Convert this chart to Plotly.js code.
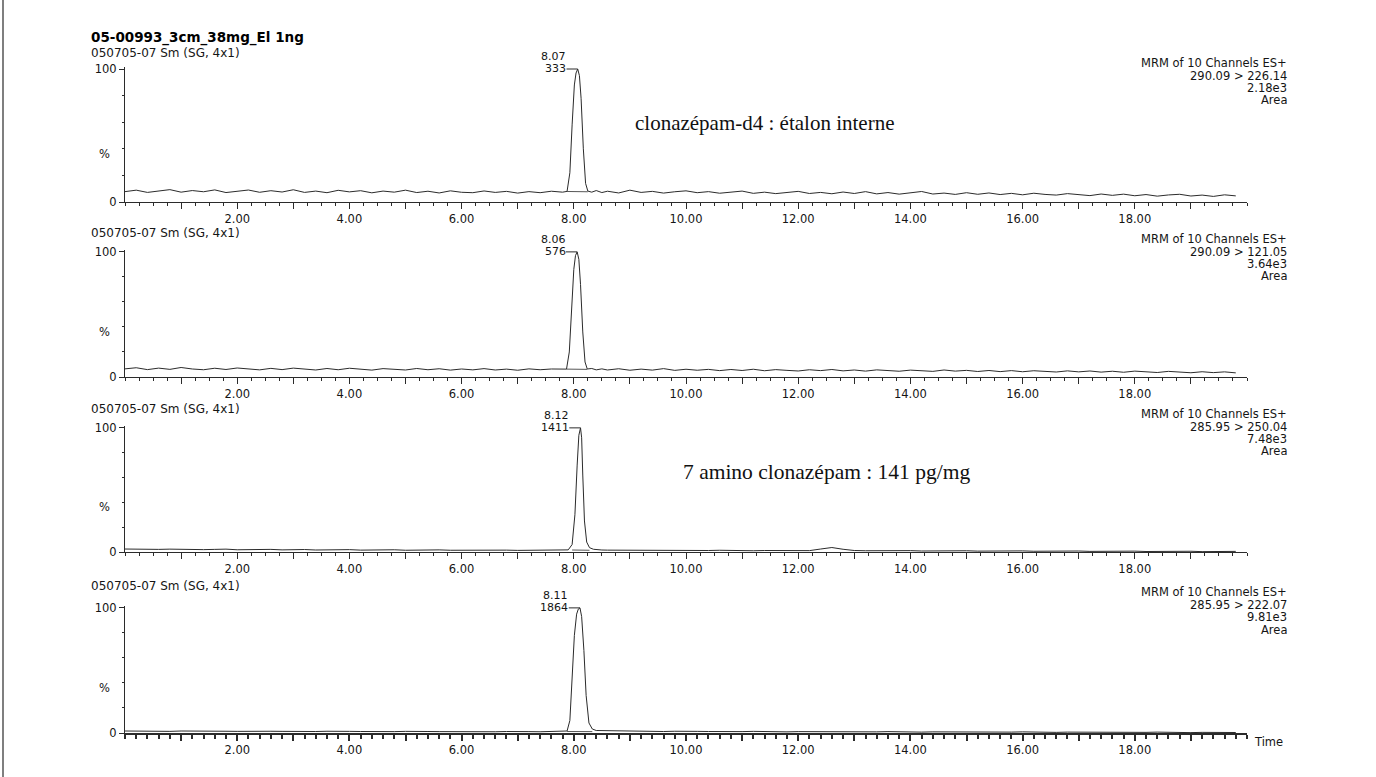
<!DOCTYPE html>
<html><head><meta charset="utf-8">
<script src="https://cdn.plot.ly/plotly-3.0.1.min.js"></script>
<style>html,body{margin:0;padding:0;background:#fff;} #chart{width:1376px;height:777px;}</style>
</head><body><div id="chart"></div>
<script>
// ---------------- DATA ----------------
const TITLE = '05-00993_3cm_38mg_El 1ng';
const HEADER = '050705-07 Sm (SG, 4x1)';
const CHANNEL_TITLE = 'MRM of 10 Channels ES+';
const TRANSITIONS = ['290.09 > 226.14', '290.09 > 121.05', '285.95 > 250.04', '285.95 > 222.07'];
const TOTAL_AREA = ['2.18e3', '3.64e3', '7.48e3', '9.81e3'];
const APEX_TIME = [8.07, 8.06, 8.12, 8.11];
const APEX_TIME_LABEL = ['8.07', '8.06', '8.12', '8.11'];
const APEX_HEIGHT = ['333', '576', '1411', '1864'];
const NOTES = ['clonazépam-d4 : étalon interne', '7 amino clonazépam : 141 pg/mg'];
const X_TICK_VALUES = [1,2,3,4,5,6,7,8,9,10,11,12,13,14,15,16,17,18,19];
const X_TICK_TEXT = ['','2.00','','4.00','','6.00','','8.00','','10.00','','12.00','','14.00','','16.00','','18.00',''];
const Y_TICK_VALUES = [0, 100];
const Y_TICK_TEXT = ['0', '100'];

const TIME_LEFT = [0.0,0.2,0.4,0.6,0.8,1.0,1.2,1.4,1.6,1.8,2.0,2.2,2.4,2.6,2.8,3.0,3.2,3.4,3.6,3.8,4.0,4.2,4.4,4.6,4.8,5.0,5.2,5.4,5.6,5.8,6.0,6.2,6.4,6.6,6.8,7.0,7.2,7.4,7.6];
const TIME_RIGHT = [8.6,8.8,9.0,9.2,9.4,9.6,9.8,10.0,10.2,10.4,10.6,10.8,11.0,11.2,11.4,11.6,11.8,12.0,12.2,12.4,12.6,12.8,13.0,13.2,13.4,13.6,13.8,14.0,14.2,14.4,14.6,14.8,15.0,15.2,15.4,15.6,15.8,16.0,16.2,16.4,16.6,16.8,17.0,17.2,17.4,17.6,17.8,18.0,18.2,18.4,18.6,18.8,19.0,19.2,19.4,19.6,19.8];

// panel 1 : 290.09 > 226.14
const LEFT1 = [7.8,8.9,7.2,8.4,9.3,7.4,8.6,7.7,9.1,7.1,8.3,9.0,7.3,8.5,7.5,9.2,7.2,8.2,7.0,8.8,7.6,8.5,6.9,8.2,7.4,8.9,7.1,8.1,6.8,8.4,7.3,7.0,8.3,7.2,8.0,6.7,7.8,7.0,8.1];
const PEAK1_T = [7.8,7.88,7.93,7.97,8.01,8.04,8.07,8.10,8.13,8.17,8.21,8.25,8.32,8.4,8.5];
const PEAK1_Y = [7.4,8.0,22,58,88,97,100,95,78,40,14,8.2,7.4,8.6,7.1];
const RIGHT1 = [8.1,6.8,8.9,7.2,8.0,6.7,7.7,8.4,7.0,7.8,6.6,7.6,8.2,6.5,7.4,6.3,7.3,8.0,6.4,7.2,6.2,7.5,6.4,7.8,6.1,7.1,5.9,6.9,7.9,6.0,6.7,5.7,7.0,5.8,6.8,5.6,6.5,5.4,6.6,5.7,5.2,6.3,5.3,4.8,6.0,5.0,5.9,4.7,5.6,4.4,5.3,5.8,4.5,5.2,4.2,5.4,4.6];
// panel 2 : 290.09 > 121.05
const LEFT2 = [6.5,7.4,5.9,7.1,6.1,7.6,6.4,5.8,7.0,6.0,7.2,6.2,5.7,6.9,5.9,7.1,6.1,5.6,6.8,5.8,7.0,6.0,5.5,6.7,5.9,5.6,6.8,5.8,6.6,5.5,6.4,5.7,6.7,5.6,6.3,5.4,6.5,5.8,6.4];
const PEAK2_T = [7.8,7.87,7.92,7.96,8.0,8.03,8.06,8.09,8.12,8.16,8.2,8.24,8.32,8.4,8.5];
const PEAK2_Y = [5.9,6.3,20,55,86,97,100,94,74,36,12,6.4,6.8,5.7,6.5];
const RIGHT2 = [5.6,6.6,5.4,6.3,5.5,6.7,5.3,6.2,5.4,6.1,5.1,6.0,5.2,6.2,5.0,5.9,5.3,4.8,5.8,5.1,6.0,4.9,5.6,4.7,5.7,5.0,4.6,5.5,4.8,4.5,5.6,4.7,5.3,4.4,5.2,4.3,5.1,4.2,5.0,4.3,4.0,4.9,4.1,4.8,3.9,4.6,3.8,4.7,3.9,3.6,4.5,3.7,3.4,4.2,3.5,4.1,3.3];
// panel 3 : 285.95 > 250.04
const LEFT3 = [2.4,2.2,2.5,2.1,2.3,2.0,2.2,1.9,2.1,2.3,1.8,2.0,1.9,2.1,1.7,1.9,2.0,1.6,1.8,1.7,1.9,1.5,1.7,1.6,1.8,1.4,1.6,1.5,1.7,1.4,1.5,1.3,1.6,1.4,1.5,1.3,1.4,1.6,1.5];
const PEAK3_T = [7.8,7.9,7.97,8.02,8.06,8.09,8.12,8.14,8.16,8.19,8.23,8.28,8.35,8.42,8.5];
const PEAK3_Y = [1.5,1.7,6,30,70,94,100,92,62,25,8,3.5,2.2,1.8,1.6];
const RIGHT3 = [1.5,1.4,1.3,1.5,1.2,1.4,1.3,1.1,1.3,1.2,1.4,1.1,1.2,1.0,1.2,1.1,1.3,1.0,1.1,2.4,3.6,2.2,1.2,1.0,1.1,0.9,1.0,1.1,0.8,1.0,0.9,0.8,1.0,0.7,0.9,0.8,0.7,0.9,0.6,0.8,0.7,0.6,0.8,0.5,0.7,0.6,0.5,0.7,0.4,0.6,0.5,0.4,0.6,0.3,0.5,0.4,0.5];
// panel 4 : 285.95 > 222.07
const LEFT4 = [1.6,1.4,1.7,1.5,1.3,1.6,1.4,1.5,1.2,1.4,1.3,1.5,1.2,1.4,1.3,1.1,1.3,1.2,1.4,1.1,1.3,1.2,1.0,1.2,1.1,1.3,1.0,1.2,1.1,1.0,1.2,0.9,1.1,1.0,1.2,0.9,1.1,1.0,1.1];
const PEAK4_T = [7.8,7.88,7.93,7.97,8.01,8.05,8.08,8.11,8.14,8.18,8.22,8.27,8.33,8.4,8.5];
const PEAK4_Y = [1.1,1.6,10,42,78,95,99,100,93,66,30,8,3.2,2.0,1.9];
const RIGHT4 = [2.4,1.7,1.5,1.3,1.5,1.2,1.4,1.1,1.3,1.2,1.0,1.2,1.1,1.3,1.0,1.1,0.9,1.1,1.0,1.2,0.9,1.0,0.8,1.0,0.9,1.1,0.8,0.9,0.7,0.9,0.8,1.0,0.7,0.8,0.6,0.8,0.7,0.9,0.6,0.7,0.5,0.7,0.6,0.8,0.5,0.6,0.4,0.6,0.5,0.7,0.4,0.5,0.3,0.5,0.4,0.6,0.4];

// integration baselines under the peaks
const INTEG_T = [[7.88,8.25],[7.87,8.24],[7.97,8.28],[7.88,8.33]];
const INTEG_Y = [[7.9,7.7],[6.3,6.1],[1.6,1.4],[1.2,1.1]];

// ---------------- LAYOUT ----------------
const W = 1376, H = 777;
const LC = '#2b2b2b';
const TXT = '#151515';
const FONT = 'DejaVu Sans';
const PANEL_PX = [[67,202],[250,377],[426,552],[606,733]];   // top (100 %), bottom (0 %) in pixels
const HEADER_Y = [53,233,409,586];
const INFO_Y = [63,239,414,592];
const X_PX = [125, 1247];
const px = x => x / W;
const py = y => 1 - y / H;

const panels = [
  [LEFT1, PEAK1_T, PEAK1_Y, RIGHT1],
  [LEFT2, PEAK2_T, PEAK2_Y, RIGHT2],
  [LEFT3, PEAK3_T, PEAK3_Y, RIGHT3],
  [LEFT4, PEAK4_T, PEAK4_Y, RIGHT4]
];

const traces = [];
const layout = {
  width: W, height: H,
  margin: {l:0, r:0, t:0, b:0},
  paper_bgcolor: '#ffffff', plot_bgcolor: 'rgba(0,0,0,0)',
  showlegend: false,
  font: {family: FONT, size: 11.5, color: TXT},
  annotations: [], shapes: []
};

panels.forEach((p, i) => {
  const sx = i === 0 ? '' : String(i + 1);
  traces.push({
    x: TIME_LEFT.concat(p[1], TIME_RIGHT),
    y: p[0].concat(p[2], p[3]),
    xaxis: 'x' + sx, yaxis: 'y' + sx,
    type: 'scatter', mode: 'lines',
    line: {color: LC, width: 1}, hoverinfo: 'skip'
  });
  traces.push({
    x: INTEG_T[i], y: INTEG_Y[i],
    xaxis: 'x' + sx, yaxis: 'y' + sx,
    type: 'scatter', mode: 'lines',
    line: {color: LC, width: 0.8}, hoverinfo: 'skip'
  });
  const bottom = i === 3;
  layout['xaxis' + sx] = {
    domain: [px(X_PX[0]), px(X_PX[1])], range: [0, 20], anchor: 'y' + sx,
    showline: true, linecolor: LC, linewidth: bottom ? 1.5 : 1, mirror: false,
    showgrid: false, zeroline: false, fixedrange: true,
    ticks: 'outside', ticklen: 6, tickwidth: bottom ? 2 : 1, tickcolor: LC,
    tickmode: 'array', tickvals: X_TICK_VALUES, ticktext: X_TICK_TEXT,
    tickfont: {family: FONT, size: 11.5, color: TXT},
    minor: {tickmode: 'linear', tick0: 0, dtick: bottom ? 0.2 : 0.25, ticks: 'outside',
            ticklen: bottom ? 4 : 3, tickwidth: bottom ? 2 : 1, tickcolor: LC, showgrid: false}
  };
  layout['yaxis' + sx] = {
    domain: [py(PANEL_PX[i][1]), py(PANEL_PX[i][0])], range: [0, 101.5], anchor: 'x' + sx,
    showline: true, linecolor: LC, linewidth: 1,
    showgrid: false, zeroline: false, fixedrange: true,
    ticks: 'outside', ticklen: 5, tickcolor: LC,
    tickmode: 'array', tickvals: Y_TICK_VALUES, ticktext: Y_TICK_TEXT,
    tickfont: {family: FONT, size: 11.5, color: TXT},
    minor: {tickmode: 'array', tickvals: [20,40,60,80], ticks: 'outside', ticklen: 2, tickcolor: LC, showgrid: false}
  };
  // header line
  layout.annotations.push({xref:'paper', yref:'paper', x: px(90), y: py(HEADER_Y[i]), xanchor:'left', yanchor:'middle',
    text: HEADER, showarrow:false, borderpad: 0, font:{family: FONT, size: 12, color: TXT}});
  // % label
  layout.annotations.push({xref:'paper', yref:'y' + sx, x: px(104), y: 36, xanchor:'center', yanchor:'middle',
    text: '%', showarrow:false, font:{family: FONT, size: 11.5, color: TXT}});
  // right info block
  [CHANNEL_TITLE, TRANSITIONS[i], TOTAL_AREA[i], 'Area'].forEach((t, k) => {
    layout.annotations.push({xref:'paper', yref:'paper', x: px(1288), y: py(INFO_Y[i] + k * 12.5), xanchor:'right', yanchor:'middle',
      text: t, showarrow:false, borderpad: 0, font:{family: FONT, size: 11.5, color: TXT}});
  });
  // peak labels
  layout.annotations.push({xref:'x' + sx, yref:'y' + sx, x: APEX_TIME[i] - 0.19, y: 100, xanchor:'right', yanchor:'middle', yshift: 12,
    text: APEX_TIME_LABEL[i], showarrow:false, borderpad: 0, font:{family: FONT, size: 11, color: TXT}});
  layout.annotations.push({xref:'x' + sx, yref:'y' + sx, x: APEX_TIME[i] - 0.19, y: 100, xanchor:'right', yanchor:'middle', yshift: 0,
    text: APEX_HEIGHT[i], showarrow:false, borderpad: 0, font:{family: FONT, size: 11, color: TXT}});
  layout.shapes.push({type:'line', xref:'x' + sx, yref:'y' + sx, x0: APEX_TIME[i] - 0.2, x1: APEX_TIME[i], y0: 100, y1: 100,
    line:{color: LC, width: 1}});
});

// title
layout.annotations.push({xref:'paper', yref:'paper', x: px(90), y: py(37), xanchor:'left', yanchor:'middle',
  text: '<b>' + TITLE + '</b>', showarrow:false, borderpad: 0, font:{family: FONT, size: 13.5, color: '#000'}});
// Time label
layout.annotations.push({xref:'paper', yref:'paper', x: px(1252), y: py(742), xanchor:'left', yanchor:'middle',
  text: 'Time', showarrow:false, font:{family: FONT, size: 11.5, color: TXT}});
// serif notes
layout.annotations.push({xref:'paper', yref:'paper', x: px(633), y: py(123), xanchor:'left', yanchor:'middle',
  text: NOTES[0], showarrow:false, font:{family: 'Liberation Serif', size: 21, color: '#111'}});
layout.annotations.push({xref:'paper', yref:'paper', x: px(681), y: py(472), xanchor:'left', yanchor:'middle',
  text: NOTES[1], showarrow:false, font:{family: 'Liberation Serif', size: 21.5, color: '#111'}});
// page edge line on the left
layout.shapes.push({type:'line', xref:'paper', yref:'paper', x0: px(3), x1: px(3), y0: 0, y1: 1,
  line:{color:'#555', width: 1.5}});

Plotly.newPlot('chart', traces, layout, {staticPlot: true, displayModeBar: false});
</script>
</body></html>
